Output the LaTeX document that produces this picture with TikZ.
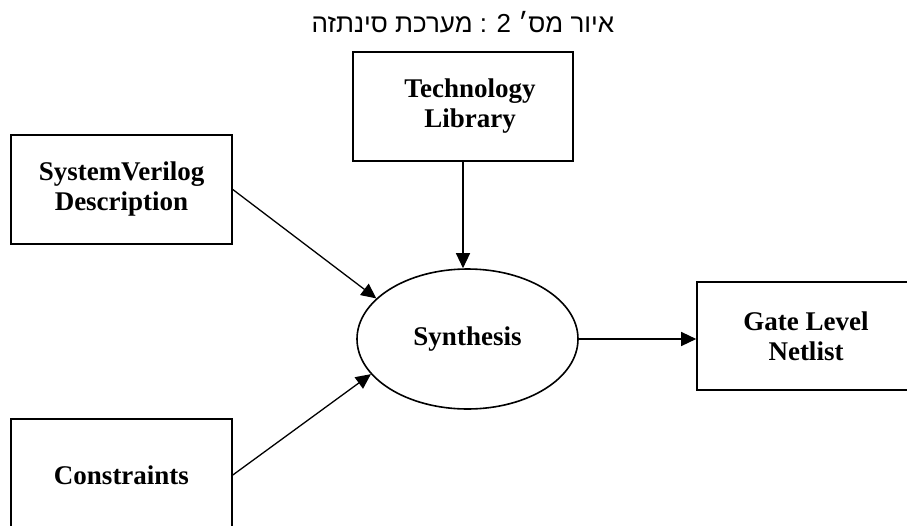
\documentclass[tikz,border=0pt]{standalone}
\usepackage{fontspec}
\setmainfont{Liberation Serif}
\newfontfamily\hebfont[Script=Hebrew]{Liberation Sans}
\TeXXeTstate=1
\usetikzlibrary{shapes.geometric,arrows.meta}
\begin{document}
\begin{tikzpicture}[x=1pt,y=-1pt,
  box/.style={draw,line width=1.6pt,align=center,font=\bfseries\fontsize{27}{30}\selectfont,inner sep=0pt},
  arr/.style={line width=1.3pt,-{Triangle[length=15pt,width=14pt]}}]
\useasboundingbox (0,0) rectangle (907,525);
\clip (0,0) rectangle (907,525);
\node[font=\hebfont\fontsize{26}{30}\selectfont] (title) at (463,22)
  {\beginR סינתזה\endR\ \beginR מערכת\endR\ : 2\ \beginR מס׳\endR\ \beginR איור\endR};
\node[box, minimum width=220pt, minimum height=109pt] (tech) at (463,106.5) {\hspace*{14pt}Technology\\\hspace*{14pt}Library};
\node[box, minimum width=221pt, minimum height=109pt] (sv) at (121.5,189.5) {SystemVerilog\\Description};
\node[box, ellipse, minimum width=221pt, minimum height=140pt] (syn) at (467.5,339) {Synthesis};
\node[box, minimum width=218pt, minimum height=108pt] (gate) at (806,336) {Gate Level\\Netlist};
\node[box, minimum width=221pt, minimum height=112pt] (cons) at (121.5,475) {Constraints};
\draw[arr] (tech.south) -- (tech.south |- syn.north);
\draw[arr] (sv.east) -- (syn.156.6);
\draw[arr] (cons.east) -- (syn.-160);
\draw[arr] (syn.east) -- (gate.west |- syn.east);
\end{tikzpicture}
\end{document}
